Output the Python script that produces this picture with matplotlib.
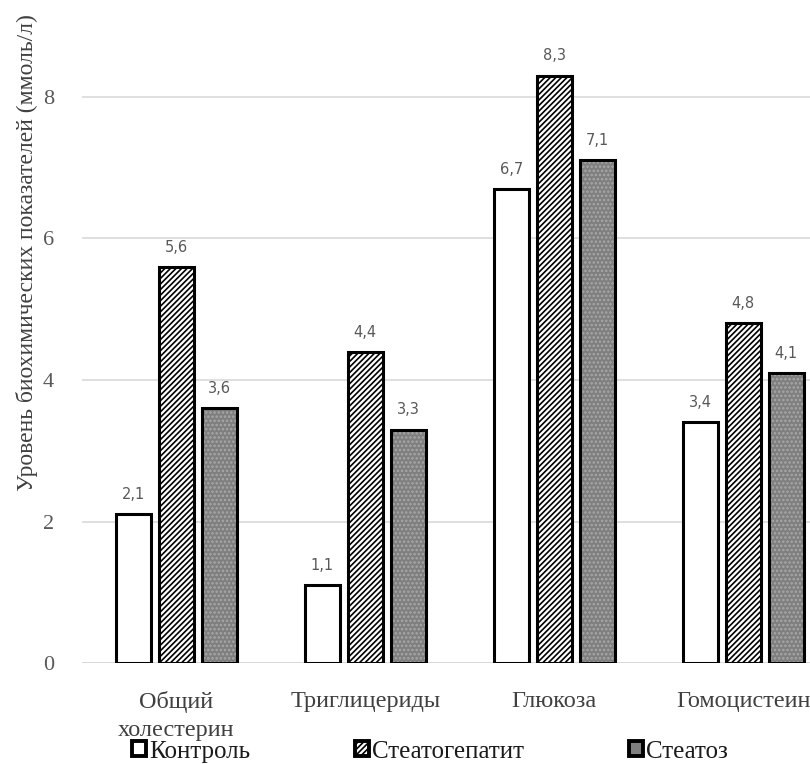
import matplotlib.pyplot as plt
import numpy as np
from matplotlib.patches import Patch

plt.rcParams['font.family'] = ['Liberation Serif', 'DejaVu Serif']
plt.rcParams['hatch.linewidth'] = 1.2

categories = ['Общий\nхолестерин', 'Триглицериды', 'Глюкоза', 'Гомоцистеин']
control = [2.1, 1.1, 6.7, 3.4]
steatohepatitis = [5.6, 4.4, 8.3, 4.8]
steatosis = [3.6, 3.3, 7.1, 4.1]
series_names = ['Контроль', 'Стеатогепатит', 'Стеатоз']

fig = plt.figure(figsize=(8.1, 7.64), dpi=100)
ax = fig.add_axes([0.101, 0.132, 0.933, 0.834])

x = np.arange(len(categories))
w = 0.185
step = 0.2275

# bars (hatched ones drawn twice so the outline stays black)
ax.bar(x - step, control, w, facecolor='white', edgecolor='black', linewidth=2.2, zorder=3)
ax.bar(x, steatohepatitis, w, facecolor='white', edgecolor='black', hatch='//////', linewidth=0, zorder=3)
ax.bar(x, steatohepatitis, w, facecolor='none', edgecolor='black', linewidth=2.2, zorder=4)
ax.bar(x + step, steatosis, w, facecolor='#7f7f7f', edgecolor='#a8a8a8', hatch='....', linewidth=0, zorder=3)
ax.bar(x + step, steatosis, w, facecolor='none', edgecolor='black', linewidth=2.2, zorder=4)

for offs, vals in [(-step, control), (0, steatohepatitis), (step, steatosis)]:
    for xi, v in zip(x, vals):
        ax.text(xi + offs, v + 0.17, f'{v:.1f}'.replace('.', ','), ha='center', va='bottom',
                fontsize=10.5, color='#595959', family='DejaVu Sans')

ax.set_xlim(-0.5, 3.5)
ax.set_ylim(0, 9.0)
ax.set_yticks([0, 2, 4, 6, 8])
ax.yaxis.grid(True, color='#d9d9d9', linewidth=1.2, zorder=0)
ax.set_axisbelow(True)
for s in ax.spines.values():
    s.set_visible(False)
ax.axhline(0, color='#d9d9d9', linewidth=2, zorder=1)
ax.tick_params(axis='both', length=0)
ax.tick_params(axis='y', labelsize=16, labelcolor='#595959', pad=20)
ax.set_xticks(x)
ax.set_xticklabels(categories, fontsize=17.5, color='#404040', va='top', linespacing=1.45)
ax.tick_params(axis='x', pad=20)
ax.set_ylabel('Уровень биохимических показателей (ммоль/л)', fontsize=17, color='#404040')
ax.yaxis.set_label_coords(-0.058, 0.645)

handles = [
    Patch(facecolor='white', edgecolor='black', linewidth=2.8),
    Patch(facecolor='white', edgecolor='black', hatch='//////', linewidth=2.8),
    Patch(facecolor='#7f7f7f', edgecolor='black', linewidth=2.8),
]
fig.legend(handles, series_names, loc='center', bbox_to_anchor=(0.531, 0.016), ncol=3,
           frameon=False, fontsize=18, handlelength=0.55, handleheight=0.55,
           handletextpad=0.12, columnspacing=4.2, labelcolor='#1a1a1a')

fig.savefig('out.png', dpi=100)
